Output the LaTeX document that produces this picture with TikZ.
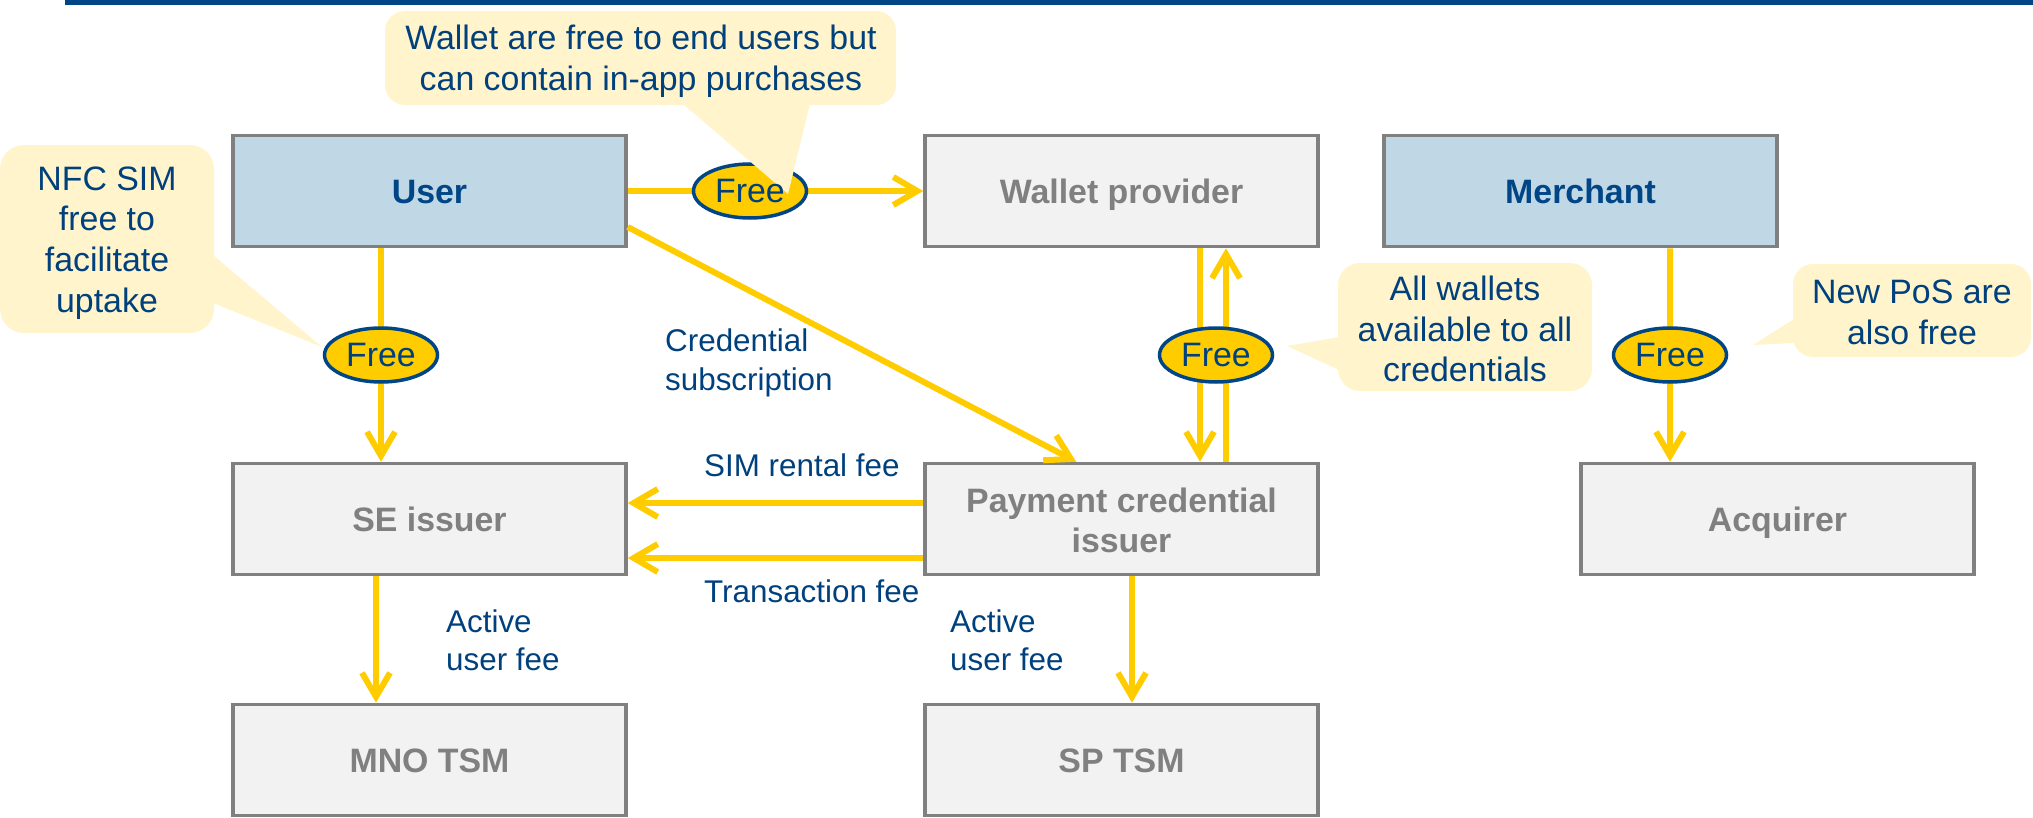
\documentclass[tikz,border=0pt]{standalone}
\usepackage{fontspec}
\setmainfont{Liberation Sans}
\usetikzlibrary{arrows.meta,shapes.geometric,calc}
\definecolor{navy}{RGB}{0,69,134}
\definecolor{txtblue}{RGB}{0,65,125}
\definecolor{boxgrey}{RGB}{242,242,242}
\definecolor{bordergrey}{RGB}{128,128,128}
\definecolor{lightblue}{RGB}{192,216,229}
\definecolor{gold}{RGB}{255,204,0}
\definecolor{cream}{RGB}{255,244,204}
\begin{document}
\begin{tikzpicture}[x=1bp,y=-1bp,
  box/.style={draw=bordergrey, line width=3.5bp, fill=boxgrey, minimum width=393bp, minimum height=111bp, inner sep=0pt, font=\fontsize{34}{40}\selectfont\bfseries, text=bordergrey, align=center, text height=24.5bp, text depth=0bp},
  bluebox/.style={box, fill=lightblue, text=navy},
  arr/.style={draw=gold, line width=6bp, -{Straight Barb[length=24bp,width=28bp]}},
  freeell/.style={ellipse, draw=navy, line width=3.5bp, fill=gold, minimum width=113bp, minimum height=54bp, inner sep=0pt, font=\fontsize{34}{40}\selectfont, text=txtblue},
  freetext/.style={inner sep=0pt, font=\fontsize{34}{40}\selectfont, text=txtblue},
  ctext/.style={inner sep=0pt, font=\fontsize{34}{41}\selectfont, text=txtblue, align=center},
  lbl/.style={inner sep=0pt, font=\fontsize{31.5}{38.5}\selectfont, text=txtblue, align=left, anchor=west},
  callout/.style={fill=cream}
]
\useasboundingbox (0,0) rectangle (2033,818);
% top bar
\fill[navy] (65,0) rectangle (2033,5);

% boxes
\node[bluebox] (User) at (429.5,191) {User};
\node[box] (Wallet) at (1121.5,191) {Wallet provider};
\node[bluebox] (Merchant) at (1580.5,191) {Merchant};
\node[box] (SE) at (429.5,519) {SE issuer};
\node[box, text height=66bp] (PCI) at (1121.5,519) {Payment credential\\issuer};
\node[box] (Acq) at (1777.5,519) {Acquirer};
\node[box] (MNO) at (429.5,760) {MNO TSM};
\node[box] (SP) at (1121.5,760) {SP TSM};

% connectors
\draw[arr] (User.east) -- (Wallet.west);
\draw[arr] ([xshift=-48.5bp]User.south) -- ([xshift=-48.5bp]SE.north);
\draw[arr] ([yshift=-36bp]User.east) -- ([xshift=153bp]PCI.north west);
\draw[arr] ([xshift=78.5bp]Wallet.south) -- ([xshift=78.5bp]PCI.north);
\draw[arr] ([xshift=104.5bp]PCI.north) -- ([xshift=104.5bp]Wallet.south);
\draw[arr] ([xshift=89.5bp]Merchant.south) -- ([xshift=-107.5bp]Acq.north);
\path ([yshift=16bp]PCI.west) coordinate (p1);
\path ([yshift=-39bp]PCI.west) coordinate (p2);
\draw[arr] (p1) -- (p1 -| SE.east);
\draw[arr] (p2) -- (p2 -| SE.east);
\draw[arr] ([xshift=-53.5bp]SE.south) -- ([xshift=-53.5bp]MNO.north);
\draw[arr] ([xshift=10.5bp]PCI.south) -- ([xshift=10.5bp]SP.north);

% free ellipses
\node[freeell] (e1) at (750,191) {};
\node[freeell] (e2) at (381,355) {Free};
\node[freeell] (e3) at (1216,355) {Free};
\node[freeell] (e4) at (1670,355) {Free};

% callouts
\fill[callout, rounded corners=20bp] (385,11) rectangle (896,105);
\fill[callout] (683,104) -- (788,194) -- (810,104) -- cycle;
\node[ctext] (c1) at (641,61) {Wallet are free to end users but\\can contain in-app purchases};

\fill[callout, rounded corners=24bp] (0,145) rectangle (214,333);
\fill[callout] (213,255) -- (322,347) -- (213,303) -- cycle;
\node[ctext] (c2) at (107,243) {NFC SIM\\free to\\facilitate\\uptake};

\fill[callout, rounded corners=22bp] (1338,263) rectangle (1592,391);
\fill[callout] (1339,337) -- (1287,346) -- (1339,370) -- cycle;
\node[ctext] (c3) at (1465,329) {All wallets\\available to all\\credentials};

\fill[callout, rounded corners=20bp] (1793,264) rectangle (2031,357);
\fill[callout] (1794,319) -- (1753,345) -- (1794,343) -- cycle;
\node[ctext] (c4) at (1912,312) {New PoS are\\also free};

\node[freetext] at (e1) {Free};

% labels
\node[lbl] (l1) at (665,363) {Credential\\subscription};
\node[lbl] (l2) at (704,465) {SIM rental fee};
\node[lbl] (l3) at (704,591) {Transaction fee};
\node[lbl] (l4) at (446,640) {Active\\user fee};
\node[lbl] (l5) at (950,640) {Active\\user fee};
\end{tikzpicture}
\end{document}
